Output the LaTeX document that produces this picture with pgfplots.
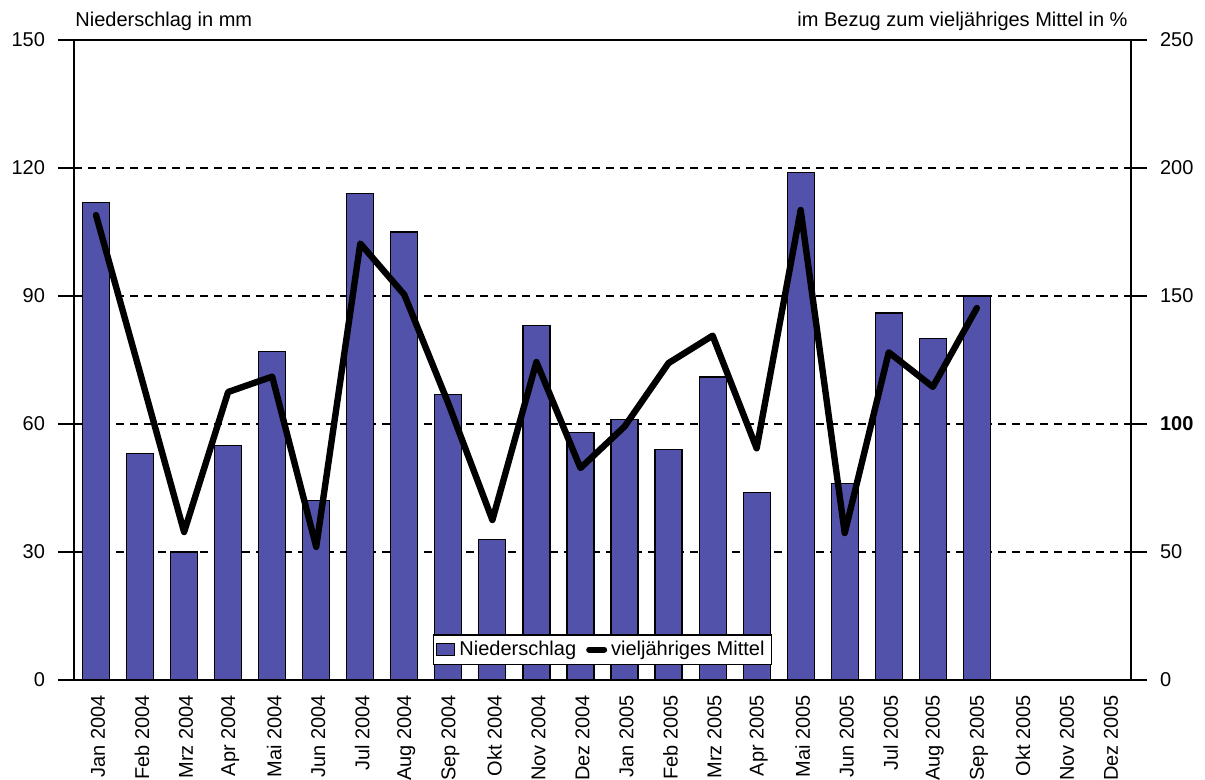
\documentclass[border=0pt]{standalone}
\usepackage{pgfplots}
\pgfplotsset{compat=1.18}
\usepackage{fontspec}
\setmainfont{Liberation Sans}
\definecolor{barblue}{RGB}{82,82,170}
\begin{document}
\begin{tikzpicture}
\pgfplotsset{
  every axis/.append style={
    scale only axis, width=528.5pt, height=320pt,
    xmin=-0.5, xmax=23.5, ymin=0,
    /pgf/number format/assume math mode=true,
    tick label style={font=\fontsize{10}{12}\selectfont},
    axis line style={line width=0.8pt},
    tick align=outside,
    major tick length=8pt,
    tick style={black, line width=0.6pt},
  }
}
\begin{axis}[
  name=main,
  ymax=150,
  ytick={0,30,60,90,120,150},
  ytick pos=left,
  xtick=data,
  xtick pos=bottom,
  x tick style={draw=none},
  xticklabels={Jan 2004,Feb 2004,Mrz 2004,Apr 2004,Mai 2004,Jun 2004,Jul 2004,Aug 2004,Sep 2004,Okt 2004,Nov 2004,Dez 2004,Jan 2005,Feb 2005,Mrz 2005,Apr 2005,Mai 2005,Jun 2005,Jul 2005,Aug 2005,Sep 2005,Okt 2005,Nov 2005,Dez 2005},
  xticklabel style={yshift=4pt, xshift=1pt, rotate=90, anchor=east},
  yticklabel style={xshift=-3pt},
  ymajorgrids,
  grid style={black, dash pattern=on 4pt off 3pt, line width=0.6pt},
  legend style={at={(0.5,0)}, anchor=south, yshift=7.5pt, draw=black, line width=0.6pt,
    font=\fontsize{10}{12}\selectfont, inner sep=1pt, inner xsep=1.5pt,
    /tikz/every even column/.append style={column sep=3pt}},
  legend columns=-1,
]
\addplot[ybar, bar width=13.5pt, fill=barblue, draw=black, line width=0.6pt,
  legend image code/.code={\draw[fill=barblue, draw=black, line width=0.5pt] (0pt,-3pt) rectangle (9pt,3pt);}]
  coordinates {
  (0,112) (1,53) (2,30) (3,55) (4,77) (5,42) (6,114) (7,105) (8,67) (9,33) (10,83) (11,58)
  (12,61) (13,54) (14,71) (15,44) (16,119) (17,46) (18,86) (19,80) (20,90) (21,0) (22,0) (23,0)
  };
\addlegendentry{Niederschlag}
\addlegendimage{legend image code/.code={\draw[black, line width=3pt, line cap=round] (0.5pt,0pt) -- (8pt,0pt);}}
\addlegendentry{vieljähriges Mittel}
\end{axis}
\begin{axis}[
  ymax=250,
  axis y line*=right,
  axis x line=none,
  ytick={0,50,100,150,200,250},
  yticklabels={0,50,\textbf{100},150,200,250},
  yticklabel style={xshift=3pt},
]
\addplot[black, line width=3.2pt, line join=round, line cap=round] coordinates {
  (0,181.6) (1,120) (2,57.8) (3,112.5) (4,118.5) (5,52) (6,170.5) (7,150.5) (8,108) (9,62.5)
  (10,124.2) (11,82.8) (12,99) (13,123.8) (14,134.5) (15,90.5) (16,183.6) (17,57.4)
  (18,128) (19,114.5) (20,145.3)
  };
\end{axis}
\node[anchor=base west, inner sep=0pt, font=\fontsize{10}{12}\selectfont] at ([xshift=0.5pt, yshift=6.5pt]main.north west) {Niederschlag in mm};
\node[anchor=base east, inner sep=0pt, font=\fontsize{10}{12}\selectfont] at ([xshift=-1.5pt, yshift=6.5pt]main.north east) {im Bezug zum vieljähriges Mittel in \%};
\pgfresetboundingbox
\path ([xshift=-37pt,yshift=-50pt]main.south west) rectangle ([xshift=37pt,yshift=20pt]main.north east);
\end{tikzpicture}
\end{document}
